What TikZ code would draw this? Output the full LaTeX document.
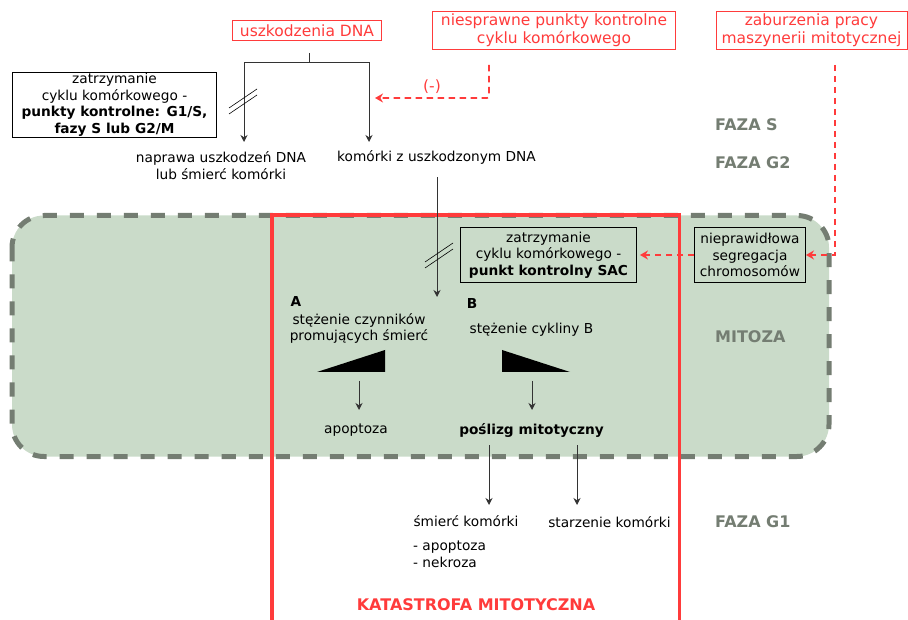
\documentclass[tikz,border=0pt]{standalone}
\usepackage{fontspec}
\setmainfont{DejaVu Sans}
\usetikzlibrary{arrows.meta,positioning}
\definecolor{alarmred}{HTML}{FF3B3B}
\definecolor{phasegray}{HTML}{747D72}
\definecolor{mitgreen}{HTML}{CADBC9}
\definecolor{flowgray}{HTML}{333333}
\newcommand\bodyfont{\fontsize{13.7}{16.5}\selectfont}

\begin{document}
\begin{tikzpicture}[
    x=1pt, y=-1pt,
    font=\bodyfont,
    cause/.style={
        draw=alarmred, text=alarmred, line width=0.9pt,
        align=center, inner sep=0pt, font=\fontsize{15.5}{17.5}\selectfont
    },
    arrestbox/.style={
        draw=black, line width=0.9pt, align=center, inner sep=0pt
    },
    caption/.style={align=center, inner sep=0pt},
    strong/.style={font=\bodyfont\bfseries},
    phase/.style={
        text=phasegray, anchor=west, inner sep=0pt,
        font=\bfseries\fontsize{16}{18}\selectfont
    },
    flow/.style={draw=flowgray, line width=0.9pt, -{Stealth[length=7pt,width=7pt]}},
    signal/.style={
        draw=alarmred, line width=1.6pt, dash pattern=on 6.5pt off 4.5pt,
        -{Stealth[length=8pt,width=9pt]}
    },
    slash/.style={draw=black, line width=0.6pt},
    mitozone/.style={
        fill=mitgreen, draw=phasegray, line width=5pt,
        dash pattern=on 14pt off 13pt, rounded corners=32pt
    },
    catzone/.style={draw=alarmred, line width=3.3pt}
]

\useasboundingbox (0,0) rectangle (908,620);

% mitosis band and mitotic catastrophe frame
\draw[mitozone] (12,215.5) rectangle (829,456.5);
\draw[catzone] (272,630) |- (679.5,215) -- (679.5,630);

% causes
\node[cause, minimum width=149pt, minimum height=20pt] (dnadmg) at (307,30.5) {uszkodzenia DNA};
\node[cause, minimum width=243pt, minimum height=38pt] (faultycp) at (554,30) {niesprawne punkty kontrolne\\cyklu komórkowego};
\node[cause, minimum width=191pt, minimum height=38pt] (mitmach) at (811.5,30) {zaburzenia pracy\\maszynerii mitotycznej};

% phases
\node[phase] (phS) at (715,125) {FAZA S};
\node[phase] (phG2) at (715,163) {FAZA G2};
\node[phase] (phM) at (715,336.5) {MITOZA};
\node[phase] (phG1) at (715,522) {FAZA G1};

% interphase
\node[arrestbox, minimum width=204pt, minimum height=65pt] (arrestcp) at (114.5,105) {zatrzymanie\\cyklu komórkowego -\\\textbf{punkty kontrolne: G1/S,}\\\textbf{fazy S lub G2/M}};
\node[caption] (repair) at (221,165.5) {naprawa uszkodzeń DNA\\lub śmierć komórki};
\node[caption] (damaged) at (436.5,157) {komórki z uszkodzonym DNA};

\coordinate (fork) at (309,62);
\coordinate (repairIn) at (244,142);
\coordinate (damagedIn) at (369,142);
\draw[flowgray, line width=0.9pt] ([yshift=-12pt]dnadmg.south -| fork) -- (fork);
\draw[flow] (fork) -| (repairIn);
\draw[flow] (fork) -| (damagedIn);

\coordinate (cpOut) at (489,65);
\coordinate (forkHit) at (375,98);
\draw[signal, rounded corners=2pt] (cpOut) |- node[pos=0.75, above=4pt, text=alarmred, inner sep=0pt, font=\fontsize{15.5}{17.5}\selectfont] {(-)} (forkHit);

% mitosis
\node[arrestbox, minimum width=176pt, minimum height=55pt] (arrestsac) at (548.5,255) {zatrzymanie\\cyklu komórkowego -\\\textbf{punkt kontrolny SAC}};
\node[arrestbox, minimum width=111pt, minimum height=55pt] (missegr) at (750,255) {nieprawidłowa\\segregacja\\chromosomów};

\coordinate (machOut) at (835,65);
\draw[signal] (machOut) |- (missegr.east);
\draw[signal] (missegr.west) -- ([xshift=3pt]arrestsac.east);

\coordinate (catIn) at (437,297);
\draw[flow] ([yshift=-13pt]damaged.south -| catIn) -- (catIn);

% interrupted arrows
\foreach \sx/\sy in {243/101, 439/255} {
    \foreach \dy in {0,6} {
        \draw[slash] (\sx-14,\sy+7+\dy) -- (\sx+14,\sy-12+\dy);
    }
}

\node[caption, strong] (labA) at (296,302) {A};
\node[caption] (deathfac) at (359,328.5) {stężenie czynników\\promujących śmierć};
\node[caption, strong] (labB) at (472,304) {B};
\node[caption] (cyclinB) at (531.5,330) {stężenie cykliny B};

\fill (317,372) -- (385,350) -- (385,372) -- cycle;
\fill (502,350) -- (502,372) -- (570,372) -- cycle;

\node[caption] (apo) at (356,430.5) {apoptoza};
\node[caption, strong] (slip) at (531.5,430) {poślizg mitotyczny};

\coordinate (rampA) at (359,381);
\coordinate (rampB) at (532,381);
\draw[flow] (rampA) -- ([yshift=20.5pt]apo.center -| rampA);
\draw[flow] (rampB) -- ([yshift=20pt]slip.center -| rampB);

% after slippage
\node[caption] (death) at (466,521.5) {śmierć komórki};
\node[caption] (senesc) at (609.5,522) {starzenie komórki};
\node[caption, anchor=west, align=left, font=\fontsize{13.7}{17.5}\selectfont] (deathkind) at (413,554.5) {- apoptoza\\- nekroza};

\coordinate (slipL) at (489,445);
\coordinate (slipR) at (577,445);
\draw[flow] (slipL) -- ([yshift=16.5pt]death.center -| slipL);
\draw[flow] (slipR) -- ([yshift=17pt]senesc.center -| slipR);

\node[caption, text=alarmred, font=\bfseries\fontsize{16}{18}\selectfont] (catlabel) at (476,605) {KATASTROFA MITOTYCZNA};

\end{tikzpicture}
\end{document}
